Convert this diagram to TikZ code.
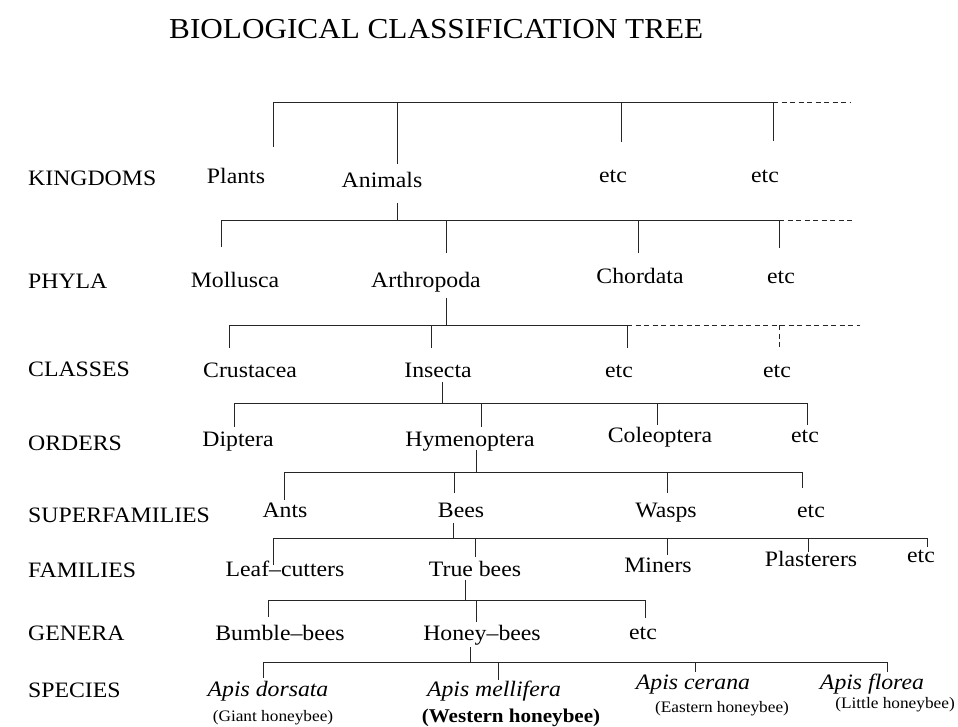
\documentclass[tikz,border=0pt]{standalone}
\usepackage{fontspec}
\setmainfont{Liberation Serif}[FakeStretch=1.08]
\begin{document}
\begin{tikzpicture}[x=1pt,y=-1pt,
  tl/.style={line width=1pt, draw=black!85},
  dl/.style={tl, dash pattern=on 5pt off 3.5pt},
  txt/.style={font=\fontsize{22}{24}\selectfont, inner sep=0pt, anchor=base},
  lbl/.style={txt, anchor=base west},
  spc/.style={txt, font=\fontsize{22}{24}\selectfont\itshape},
  sub/.style={txt, font=\fontsize{16}{18}\selectfont}]
\fill[white] (0,0) rectangle (958,726);
\useasboundingbox (0,0) rectangle (958,726);

% title
\node[anchor=base west, inner sep=0pt, font=\fontsize{28.9}{30}\selectfont] (title) at (169,38) {BIOLOGICAL CLASSIFICATION TREE};

% rank labels
\node[lbl] (lk) at (28,185) {KINGDOMS};
\node[lbl] (lp) at (28,288) {PHYLA};
\node[lbl] (lc) at (28,376) {CLASSES};
\node[lbl] (lo) at (28,450) {ORDERS};
\node[lbl] (ls) at (28,522) {SUPERFAMILIES};
\node[lbl] (lf) at (28,577) {FAMILIES};
\node[lbl] (lg) at (28,640) {GENERA};
\node[lbl] (lsp) at (28,697) {SPECIES};

% kingdoms
\node[txt] (plants) at (236,183) {Plants};
\node[txt] (animals) at (382,187) {Animals};
\node[txt] (ketc1) at (613,182) {etc};
\node[txt] (ketc2) at (765,182) {etc};
% phyla
\node[txt] (moll) at (235,287) {Mollusca};
\node[txt] (arth) at (426,287) {Arthropoda};
\node[txt] (chor) at (640,283) {Chordata};
\node[txt] (petc) at (781,283) {etc};
% classes
\node[txt] (crus) at (250,377) {Crustacea};
\node[txt] (insc) at (438,377) {Insecta};
\node[txt] (cetc1) at (619,377) {etc};
\node[txt] (cetc2) at (777,377) {etc};
% orders
\node[txt] (dipt) at (238,446) {Diptera};
\node[txt] (hyme) at (470,446) {Hymenoptera};
\node[txt] (cole) at (660,442) {Coleoptera};
\node[txt] (oetc) at (805,442) {etc};
% superfamilies
\node[txt] (ants) at (285,517) {Ants};
\node[txt] (bees) at (461,517) {Bees};
\node[txt] (wasp) at (666,517) {Wasps};
\node[txt] (setc) at (811,517) {etc};
% families
\node[txt] (leaf) at (285,576) {Leaf--cutters};
\node[txt] (true) at (475,576) {True bees};
\node[txt] (mine) at (658,572) {Miners};
\node[txt] (plas) at (811,566) {Plasterers};
\node[txt] (fetc) at (921,562) {etc};
% genera
\node[txt] (bumb) at (280,640) {Bumble--bees};
\node[txt] (hone) at (482,640) {Honey--bees};
\node[txt] (getc) at (643,639) {etc};
% species
\node[spc] (dors) at (268,696) {Apis dorsata};
\node[spc] (mell) at (494,696) {Apis mellifera};
\node[spc] (cera) at (693,689) {Apis cerana};
\node[spc] (flor) at (872,689) {Apis florea};
\node[sub] (giant) at (273,721) {(Giant honeybee)};
\node[txt, font=\fontsize{19.5}{21}\selectfont\bfseries] (west) at (511,722) {(Western honeybee)};
\node[sub] (east) at (722,712) {(Eastern honeybee)};
\node[sub] (litt) at (895,708) {(Little honeybee)};

% tree 1
\coordinate (b1l) at (273.5,102); \coordinate (b1r) at (773,102); \coordinate (b1e) at (850,102);
\draw[tl] (b1l) -- (b1r);
\draw[dl] (b1r) -- (b1e);
\draw[tl] (b1l) -- ++(0,45);
\draw[tl] (397.5,102) -- (397.5,164);
\draw[tl] (621,102) -- (621,142);
\draw[tl] (b1r) -- ++(0,39);
% tree 2
\coordinate (b2l) at (221,220); \coordinate (b2r) at (779,220); \coordinate (b2e) at (853,220);
\draw[tl] (397.5,203) -- (397.5,220);
\draw[tl] (b2l) -- (b2r);
\draw[dl] (b2r) -- (b2e);
\draw[tl] (b2l) -- ++(0,27);
\draw[tl] (446,220) -- (446,253);
\draw[tl] (638,220) -- (638,253);
\draw[tl] (b2r) -- ++(0,28);
% tree 3
\coordinate (b3l) at (229,325); \coordinate (b3m) at (627,325); \coordinate (b3e) at (860,325);
\draw[tl] (446,298) -- (446,325);
\draw[tl] (b3l) -- (b3m);
\draw[dl] (b3m) -- (b3e);
\draw[tl] (b3l) -- ++(0,23);
\draw[tl] (431,325) -- (431,348);
\draw[tl] (b3m) -- ++(0,23);
\draw[dl] (779,325) -- (779,348);
% tree 4
\coordinate (b4l) at (234,403); \coordinate (b4r) at (807,403);
\draw[tl] (442,382) -- (442,403);
\draw[tl] (b4l) -- (b4r);
\draw[tl] (b4l) -- ++(0,24);
\draw[tl] (481,403) -- (481,427);
\draw[tl] (657,403) -- (657,425);
\draw[tl] (b4r) -- ++(0,22);
% tree 5
\coordinate (b5l) at (284,472); \coordinate (b5r) at (802,472);
\draw[tl] (476,450) -- (476,472);
\draw[tl] (b5l) -- (b5r);
\draw[tl] (b5l) -- ++(0,28);
\draw[tl] (454,472) -- (454,493);
\draw[tl] (667,472) -- (667,493);
\draw[tl] (b5r) -- ++(0,16);
% tree 6
\coordinate (b6l) at (273,538); \coordinate (b6r) at (927,538);
\draw[tl] (453,523) -- (453,538);
\draw[tl] (b6l) -- (b6r);
\draw[tl] (b6l) -- ++(0,27);
\draw[tl] (475,538) -- (475,557);
\draw[tl] (667,538) -- (667,555);
\draw[tl] (808,538) -- (808,552);
\draw[tl] (b6r) -- ++(0,9);
% tree 7
\coordinate (b7l) at (268,600); \coordinate (b7r) at (645,600);
\draw[tl] (465,580) -- (465,600);
\draw[tl] (b7l) -- (b7r);
\draw[tl] (b7l) -- ++(0,17);
\draw[tl] (476,600) -- (476,622);
\draw[tl] (b7r) -- ++(0,18);
% tree 8
\coordinate (b8l) at (263,662); \coordinate (b8r) at (887,662);
\draw[tl] (470,647) -- (470,662);
\draw[tl] (b8l) -- (b8r);
\draw[tl] (b8l) -- ++(0,16);
\draw[tl] (498,662) -- (498,680);
\draw[tl] (695,662) -- (695,672);
\draw[tl] (b8r) -- ++(0,10);
\end{tikzpicture}
\end{document}
